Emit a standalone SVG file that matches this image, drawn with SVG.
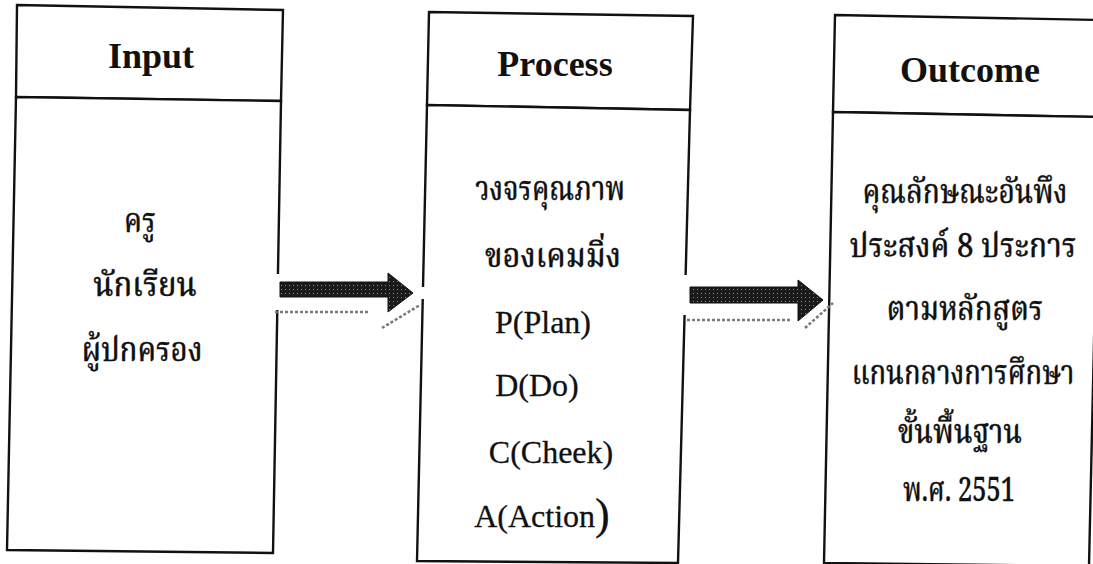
<svg xmlns="http://www.w3.org/2000/svg" width="1093" height="564" viewBox="0 0 1093 564">
<style>
.box{fill:#fff;stroke:#111;stroke-width:2.4;stroke-linejoin:miter}
.hd{font-family:"Liberation Serif","Times New Roman",serif;font-weight:bold;font-size:36px;fill:#111;text-anchor:middle}
.en{font-family:"Liberation Serif","Times New Roman",serif;font-size:32px;fill:#111;text-anchor:middle;stroke:#111;stroke-width:0.3}
.th{font-family:"Noto Serif Thai","Noto Sans Thai","Liberation Serif","DejaVu Serif",serif;font-size:33px;fill:#111;text-anchor:middle;font-weight:500;stroke:#111;stroke-width:0.3}
.arrow{fill:url(#stip);stroke:#111;stroke-width:1}
.shadow{fill:none;stroke:#777;stroke-width:2.5;stroke-dasharray:3 2}
</style>
<defs>
<pattern id="stip" width="4" height="4" patternUnits="userSpaceOnUse">
<rect width="4" height="4" fill="#1a1a1a"/>
<rect x="1" y="1" width="1" height="1" fill="#8a8a8a"/>
</pattern>
</defs>
<rect width="1093" height="564" fill="#fff"/>
<g id="input">
<polygon class="box" points="17,5 283,10 281,101 16,97"/>
<polygon class="box" points="16,97 281,101 273,553 7,550"/>
<text class="hd" x="151" y="68">Input</text>
<text class="th" transform="translate(140,232) scale(0.85,1)">ครู</text>
<text class="th" transform="translate(145,296) scale(0.85,1)" textLength="122" lengthAdjust="spacingAndGlyphs">นักเรียน</text>
<text class="th" transform="translate(142,361) scale(0.85,1)" textLength="142" lengthAdjust="spacingAndGlyphs">ผู้ปกครอง</text>
</g>
<g id="process">
<polygon class="box" points="429,12 693,16 690,110 427,105"/>
<polygon class="box" points="427,105 690,110 678,563 417,561"/>
<text class="hd" x="555" y="76">Process</text>
<text class="th" transform="translate(550,200) scale(0.85,1)" textLength="176" lengthAdjust="spacingAndGlyphs">วงจรคุณภาพ</text>
<text class="th" transform="translate(553,267) scale(0.85,1)" textLength="160" lengthAdjust="spacingAndGlyphs">ของเคมมิ่ง</text>
<text class="en" x="543" y="333">P(Plan)</text>
<text class="en" x="537" y="396">D(Do)</text>
<text class="en" x="551" y="463">C(Cheek)</text>
<text class="en" x="542" y="527">A(Action<tspan font-size="44" dy="2">)</tspan></text>
</g>
<g id="outcome">
<polygon class="box" points="835,15 1101,20 1099,117 833,112"/>
<polygon class="box" points="833,112 1099,117 1089,566 824,563"/>
<text class="hd" x="970" y="82">Outcome</text>
<text class="th" transform="translate(965,203) scale(0.85,1)" textLength="241" lengthAdjust="spacingAndGlyphs">คุณลักษณะอันพึง</text>
<text class="th" transform="translate(963,257) scale(0.85,1)" textLength="267" lengthAdjust="spacingAndGlyphs">ประสงค์ 8 ประการ</text>
<text class="th" transform="translate(965,320) scale(0.85,1)" textLength="184" lengthAdjust="spacingAndGlyphs">ตามหลักสูตร</text>
<text class="th" transform="translate(963,384) scale(0.85,1)" textLength="262" lengthAdjust="spacingAndGlyphs">แกนกลางการศึกษา</text>
<text class="th" transform="translate(960,443) scale(0.85,1)" textLength="146" lengthAdjust="spacingAndGlyphs">ขั้นพื้นฐาน</text>
<text class="th" transform="translate(959,501) scale(0.85,1)" font-size="30" textLength="132" lengthAdjust="spacingAndGlyphs">พ.ศ. 2551</text>
</g>
<g id="connectors">
<rect x="270" y="274" width="12" height="36" fill="#fff"/>
<rect x="418" y="287" width="10" height="12" fill="#fff"/>
<polygon class="arrow" points="280,282 388,282 388,273 413,293 388,312 388,297 280,297"/>
<line class="shadow" x1="275" y1="312" x2="370" y2="312"/>
<line class="shadow" x1="382" y1="328" x2="420" y2="305"/>
<rect x="680" y="275" width="12" height="40" fill="#fff"/>
<polygon class="arrow" points="690,287 798,287 798,280 823,300 798,321 798,303 690,303"/>
<line class="shadow" x1="687" y1="320" x2="790" y2="320"/>
<line class="shadow" x1="805" y1="328" x2="833" y2="303"/>
</g>
</svg>
